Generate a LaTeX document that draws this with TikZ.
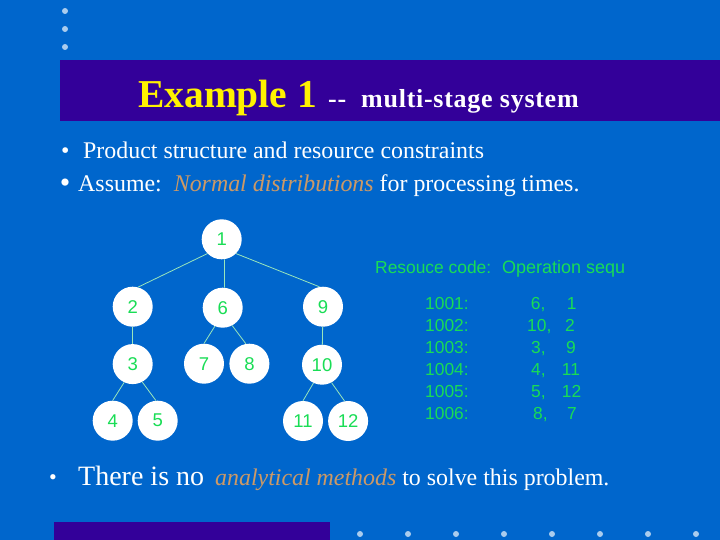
\documentclass[tikz,border=0pt]{standalone}
\usepackage{fontspec}
\setmainfont{Liberation Serif}
\setsansfont{Liberation Sans}
\usetikzlibrary{positioning}
\definecolor{slideblue}{HTML}{0066CC}
\definecolor{bannerviolet}{HTML}{330099}
\definecolor{dotblue}{HTML}{AACCEE}
\definecolor{labelgreen}{HTML}{19DD55}
\definecolor{linkgreen}{HTML}{99E6BB}
\definecolor{accenttan}{HTML}{CC9966}
\begin{document}
\begin{tikzpicture}[%
        x=1pt,
        y=-1pt,
        node distance=7pt,
        every edge/.style={draw=linkgreen,line width=0.8pt},
        opnode/.style={%
          circle,
          inner sep=0pt,
          minimum size=40pt,
          fill=white,
          text=labelgreen,
          font=\sffamily\fontsize{18.5}{20}\selectfont
        },
        slidetext/.style={%
          anchor=base west,
          inner sep=0pt,
          text=white,
          font=\fontsize{23.9}{24}\selectfont
        },
        tabletext/.style={%
          anchor=base west,
          inner sep=0pt,
          text=labelgreen,
          font=\sffamily\fontsize{17.4}{18}\selectfont
        }
      ]
      \useasboundingbox (0,0) rectangle (720,540);
      \fill[slideblue] (0,0) rectangle (720,540);
      \fill[bannerviolet] (60,60) rectangle (720,121);
      \fill[bannerviolet] (54,522) rectangle (330,540);
      \foreach \y in {11,29,47} \fill[dotblue] (65,\y) circle (3pt);
      \foreach \x in {360,408,...,696} \fill[dotblue] (\x,534) circle (3pt);

      \node[slidetext,text=yellow,font=\bfseries\fontsize{39.5}{40}\selectfont] (title) at (138,108) {Example 1};
      \node[slidetext,font=\bfseries\fontsize{26}{26}\selectfont\addfontfeatures{LetterSpace=2.8}] (subtitle) at (328,108) {-{}-\hspace{15pt}multi-stage system};

      \node[slidetext] (bullet1) at (61,159) {•};
      \node[slidetext] (line1) at (83,159) {Product structure and resource constraints};
      \node[slidetext,font=\fontsize{30}{30}\selectfont] (bullet2) at (59.7,193) {•};
      \node[slidetext] (line2) at (78,192) {Assume:\hspace{12pt}\textcolor{accenttan}{\textit{Normal distributions}} for processing times.};
      \node[slidetext,font=\fontsize{22}{22}\selectfont] (bullet3) at (49,484) {•};
      \node[slidetext] (line3) at (78,485) {{\fontsize{28}{28}\selectfont There is no}\hspace{11pt}\textcolor{accenttan}{\textit{analytical methods}} to solve this problem.};

      \node[opnode] (1) at (221.7,239.3) {1};
      \node[opnode] (2) at (132.7,306.7) {2};
      \node[opnode] (6) at (222.7,307.7) {6};
      \node[opnode] (9) at (323,306.7) {9};
      \node[opnode] (3) [below=of 2,yshift=-10pt] {3};
      \node[opnode] (7) at (204,363.7) {7};
      \node[opnode] (8) [right=5pt of 7] {8};
      \node[opnode] (10) at (322,364.7) {10};
      \node[opnode] (4) at (112.7,420.7) {4};
      \node[opnode] (5) [right=4.6pt of 4] {5};
      \node[opnode] (11) at (303,421) {11};
      \node[opnode] (12) [right=4.7pt of 11] {12};

      \path (1.south west) edge (2.75)
      (1.-82) edge (6.85)
      (1.south east) edge (9.100)
      (2) edge (3)
      (3.-115) edge (4.north)
      (3.-62) edge (5.95)
      (6.-113) edge (7.north)
      (6.-62) edge (8.100)
      (9) edge (10)
      (10.-115) edge (11.north)
      (10.-62) edge (12.100);

      \begin{scope}
        \clip (360,250) rectangle (623,290);
        \node[tabletext] (rescode) at (375,273) {Resouce code:};
        \node[tabletext,font=\sffamily\fontsize{18}{18}\selectfont] (opseq) at (502,273) {Operation sequ};
      \end{scope}

      \foreach \code/\xa/\opa/\xb/\opb [count=\i from 0] in {%
        1001/530.7/6/566.7/1,
        1002/527/10/565/2,
        1003/531/3/566/9,
        1004/531/4/561.7/11,
        1005/531/5/561.7/12,
        1006/533/8/567/7} {
        \node[tabletext] (code\i) at (425,309+22.1*\i) {\code:};
        \node[tabletext] (opa\i) at (\xa,309+22.1*\i) {\opa,};
        \node[tabletext] (opb\i) at (\xb,309+22.1*\i) {\opb};
      }
\end{tikzpicture}
\end{document}
